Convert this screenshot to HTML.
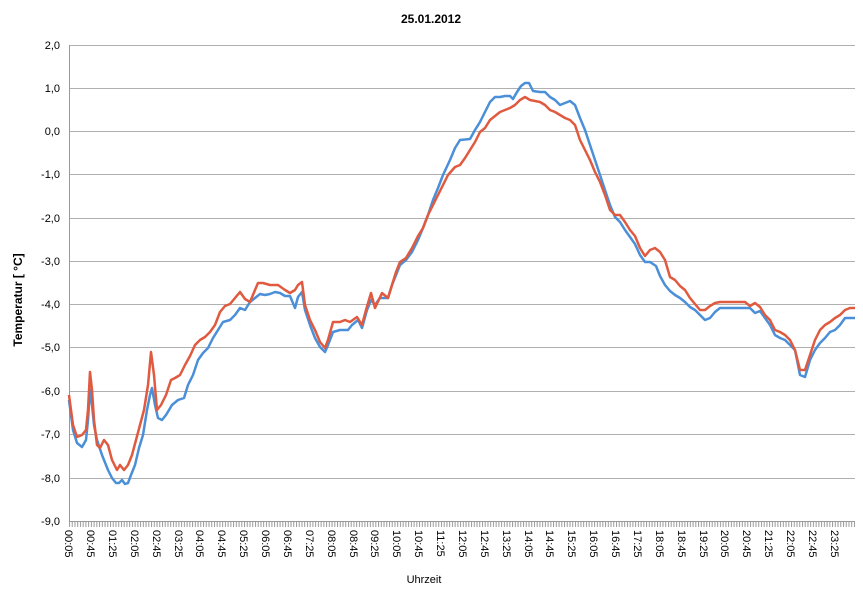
<!DOCTYPE html><html><head><style>body{margin:0;background:#fff}svg{display:block;font-family:"Liberation Sans",sans-serif}</style></head><body>
<svg width="863" height="593" viewBox="0 0 863 593" xmlns="http://www.w3.org/2000/svg">
<defs><pattern id="tk" x="69" y="0" width="2.735" height="10" patternUnits="userSpaceOnUse"><line x1="0.5" y1="0" x2="0.5" y2="10" stroke="#999" stroke-width="1"/></pattern></defs>
<rect width="863" height="593" fill="#fff"/>
<text x="431" y="23" font-size="12" font-weight="bold" text-anchor="middle">25.01.2012</text>
<g stroke="#b0b0b0" stroke-width="1">
<line x1="69" y1="45.5" x2="855" y2="45.5"/><line x1="69" y1="88.5" x2="855" y2="88.5"/><line x1="69" y1="131.5" x2="855" y2="131.5"/><line x1="69" y1="174.5" x2="855" y2="174.5"/><line x1="69" y1="218.5" x2="855" y2="218.5"/><line x1="69" y1="261.5" x2="855" y2="261.5"/><line x1="69" y1="304.5" x2="855" y2="304.5"/><line x1="69" y1="347.5" x2="855" y2="347.5"/><line x1="69" y1="391.5" x2="855" y2="391.5"/><line x1="69" y1="434.5" x2="855" y2="434.5"/><line x1="69" y1="478.5" x2="855" y2="478.5"/>
</g>
<rect x="69" y="522" width="786" height="5" fill="url(#tk)"/>
<line x1="69.5" y1="45" x2="69.5" y2="522" stroke="#999"/>
<line x1="69" y1="521.5" x2="855" y2="521.5" stroke="#999"/>
<g font-size="11" text-anchor="end">
<text x="60" y="49">2,0</text><text x="60" y="92">1,0</text><text x="60" y="135">0,0</text><text x="60" y="178">-1,0</text><text x="60" y="222">-2,0</text><text x="60" y="265">-3,0</text><text x="60" y="308">-4,0</text><text x="60" y="351">-5,0</text><text x="60" y="395">-6,0</text><text x="60" y="438">-7,0</text><text x="60" y="482">-8,0</text><text x="60" y="525">-9,0</text>
</g>
<text transform="translate(22,300) rotate(-90)" font-size="12" font-weight="bold" text-anchor="middle">Temperatur [ °C]</text>
<text x="424" y="583" font-size="11" text-anchor="middle">Uhrzeit</text>
<g font-size="11" id="xl"></g>
<polyline fill="none" stroke="#4a8fd8" stroke-width="2.5" stroke-linejoin="round" points="69,400 73,430 77,443 82,447 86,440 88,420 90,390 92,405 94,425 97,440 102,455 108,470 112,478 116,483 119,483 122,480 125,484 128,483 131,475 135,465 139,448 143,435 147,410 150,395 152,388 155,405 158,418 162,420 166,415 172,405 178,400 184,398 188,385 193,375 198,360 203,353 208,348 213,338 218,330 223,322 230,320 235,315 240,308 245,310 250,302 255,298 260,294 265,295 270,294 275,292 280,293 285,296 290,296 295,308 298,297 302,292 305,310 310,325 315,338 320,347 325,352 328,345 333,332 340,330 348,330 352,325 358,320 362,328 367,310 371,300 375,305 380,298 388,298 392,285 396,275 400,265 406,260 412,252 418,240 423,228 428,215 433,200 438,188 443,175 450,160 455,148 460,140 470,139 475,130 480,122 485,112 490,102 495,97 500,97 505,96 510,96 513,99 517,92 521,86 525,83 529,83 533,91 540,92 545,92 550,97 555,100 560,105 565,103 570,101 575,105 580,118 585,130 590,145 595,160 600,175 605,190 610,205 615,217 620,222 625,230 630,237 635,244 640,255 645,262 650,262 656,266 660,276 665,285 670,291 675,295 680,298 685,302 690,307 695,310 700,315 705,320 710,318 715,312 720,308 730,308 740,308 750,308 755,313 760,311 765,318 770,325 775,335 780,338 785,340 790,345 795,350 800,375 805,377 810,360 815,350 820,343 825,338 830,332 835,330 840,325 845,318 850,318 855,318"/>
<polyline fill="none" stroke="#e05a40" stroke-width="2.5" stroke-linejoin="round" points="69,395 73,425 77,437 82,435 86,430 88,410 90,372 92,390 94,420 97,445 100,448 104,440 108,445 112,460 117,470 120,465 124,470 128,465 132,455 136,440 140,425 144,410 148,385 151,352 154,375 157,410 161,405 166,395 171,380 175,378 180,375 185,365 190,356 195,345 200,340 205,337 210,332 215,325 220,312 225,306 230,304 235,298 240,292 245,299 250,302 255,290 258,283 263,283 270,285 278,285 285,290 290,293 295,290 298,285 302,282 305,305 310,320 315,330 320,342 325,348 328,340 333,322 340,322 345,320 350,322 357,317 362,325 366,310 371,293 375,308 382,293 388,298 392,285 396,272 400,262 406,258 412,248 418,236 423,228 428,215 433,205 438,195 443,185 448,175 455,167 460,165 465,158 470,150 475,142 480,132 485,128 490,120 495,116 500,112 505,110 510,108 515,105 520,100 525,97 530,100 540,102 545,105 550,110 555,112 560,115 565,118 570,120 575,125 580,140 585,150 590,160 595,172 600,182 605,195 610,210 615,215 620,215 625,222 630,230 635,236 640,248 645,256 650,250 655,248 660,252 665,260 670,277 675,280 680,286 685,290 690,298 695,304 700,310 705,310 710,306 715,303 720,302 730,302 740,302 745,302 750,306 755,303 760,307 765,315 770,320 775,330 780,332 785,335 790,340 795,350 800,370 805,370 810,355 815,340 820,330 825,325 830,322 835,318 840,315 845,310 850,308 855,308"/>
<g font-size="11">
<text transform="translate(65,530) rotate(90)">00:05</text>
<text transform="translate(87,530) rotate(90)">00:45</text>
<text transform="translate(109,530) rotate(90)">01:25</text>
<text transform="translate(131,530) rotate(90)">02:05</text>
<text transform="translate(153,530) rotate(90)">02:45</text>
<text transform="translate(175,530) rotate(90)">03:25</text>
<text transform="translate(196,530) rotate(90)">04:05</text>
<text transform="translate(218,530) rotate(90)">04:45</text>
<text transform="translate(240,530) rotate(90)">05:25</text>
<text transform="translate(262,530) rotate(90)">06:05</text>
<text transform="translate(284,530) rotate(90)">06:45</text>
<text transform="translate(306,530) rotate(90)">07:25</text>
<text transform="translate(328,530) rotate(90)">08:05</text>
<text transform="translate(350,530) rotate(90)">08:45</text>
<text transform="translate(371,530) rotate(90)">09:25</text>
<text transform="translate(393,530) rotate(90)">10:05</text>
<text transform="translate(415,530) rotate(90)">10:45</text>
<text transform="translate(437,530) rotate(90)">11:25</text>
<text transform="translate(459,530) rotate(90)">12:05</text>
<text transform="translate(481,530) rotate(90)">12:45</text>
<text transform="translate(503,530) rotate(90)">13:25</text>
<text transform="translate(525,530) rotate(90)">14:05</text>
<text transform="translate(546,530) rotate(90)">14:45</text>
<text transform="translate(568,530) rotate(90)">15:25</text>
<text transform="translate(590,530) rotate(90)">16:05</text>
<text transform="translate(612,530) rotate(90)">16:45</text>
<text transform="translate(634,530) rotate(90)">17:25</text>
<text transform="translate(656,530) rotate(90)">18:05</text>
<text transform="translate(678,530) rotate(90)">18:45</text>
<text transform="translate(700,530) rotate(90)">19:25</text>
<text transform="translate(721,530) rotate(90)">20:05</text>
<text transform="translate(743,530) rotate(90)">20:45</text>
<text transform="translate(765,530) rotate(90)">21:25</text>
<text transform="translate(787,530) rotate(90)">22:05</text>
<text transform="translate(809,530) rotate(90)">22:45</text>
<text transform="translate(831,530) rotate(90)">23:25</text>
</g>
</svg>
</body></html>
